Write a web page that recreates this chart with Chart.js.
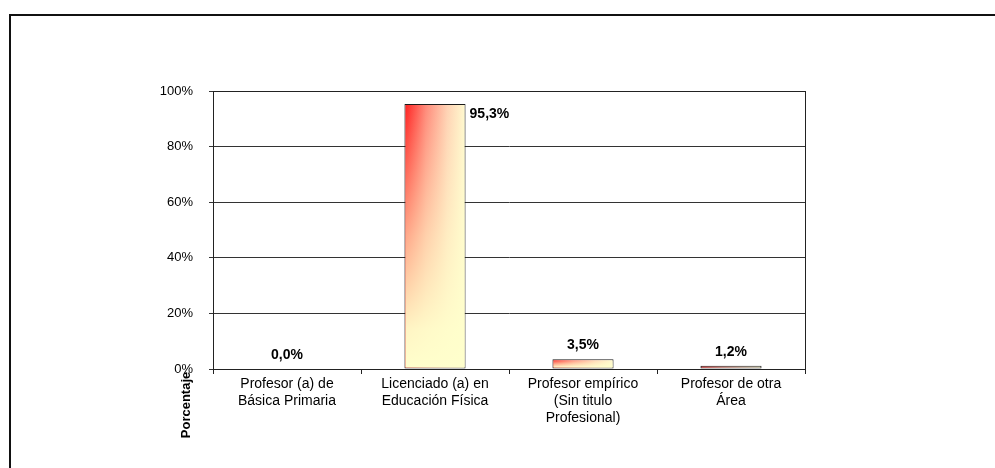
<!DOCTYPE html>
<html>
<head>
<meta charset="utf-8">
<script src="https://cdn.jsdelivr.net/npm/chart.js@4/dist/chart.umd.min.js"></script>
<style>
  html, body { margin: 0; padding: 0; background: #fff; }
  #wrap { width: 995px; height: 468px; }
</style>
</head>
<body>
<div id="wrap"><canvas id="titulo"></canvas></div>
<script>
var categorias = [
    ['Profesor (a) de', 'Básica Primaria'],
    ['Licenciado (a) en', 'Educación Física'],
    ['Profesor empírico', '(Sin titulo', 'Profesional)'],
    ['Profesor de otra', 'Área']
];
var porcentajes = [0.0, 95.3, 3.5, 1.2];
var ticksY = [0, 20, 40, 60, 80, 100];
var tituloY = 'Porcentaje';

var anchoBarra = 0.413;
var fuente = 'Arial, "Liberation Sans", sans-serif';

function fmt(v) {
    return v.toFixed(1).replace('.', ',') + '%';
}

// red on the left fading to pale yellow on the right, per bar
function degradado(c) {
    var chart = c.chart;
    if (!chart.chartArea) return '#FFFFCC';
    var xs = chart.scales.x;
    var cx = xs.getPixelForValue(c.dataIndex);
    var half = xs.width / categorias.length * anchoBarra / 2;
    var g = chart.ctx.createLinearGradient(cx - half, 0, cx + half, 0);
    g.addColorStop(0, '#FF1E1E');
    g.addColorStop(0.35, '#FF8A7A');
    g.addColorStop(0.7, '#FFD2B4');
    g.addColorStop(1, '#FFFBD0');
    return g;
}

var marco = {
    id: 'marco',
    beforeDraw: function(chart) {
        var ctx = chart.ctx;
        ctx.save();
        ctx.strokeStyle = '#111';
        ctx.lineWidth = 2;
        ctx.beginPath();
        ctx.moveTo(10, chart.height);
        ctx.lineTo(10, 15);
        ctx.lineTo(chart.width, 15);
        ctx.stroke();
        ctx.restore();
    },
    afterDatasetsDraw: function(chart) {
        var ctx = chart.ctx;
        var a = chart.chartArea;
        var meta = chart.getDatasetMeta(0);
        ctx.save();
        // vertical wash towards the bottom of each bar
        meta.data.forEach(function(el) {
            var p = el.getProps(['x', 'y', 'base', 'width'], true);
            var h = p.base - p.y;
            if (h < 4) return;
            var g = ctx.createLinearGradient(0, p.y, 0, p.base);
            g.addColorStop(0, 'rgba(255,255,204,0)');
            g.addColorStop(0.5, 'rgba(255,255,204,0.6)');
            g.addColorStop(0.85, 'rgba(255,255,204,0.95)');
            g.addColorStop(1, 'rgba(255,255,204,1)');
            ctx.fillStyle = g;
            ctx.fillRect(p.x - p.width / 2 + 1, p.y + 1, p.width - 2, h - 2);
        });
        // plot frame
        ctx.strokeStyle = '#222';
        ctx.lineWidth = 1;
        ctx.strokeRect(a.left + 0.5, a.top + 0.5, a.right - a.left, a.bottom - a.top);
        // value labels
        ctx.fillStyle = '#000';
        ctx.font = 'bold 14px ' + fuente;
        ctx.textBaseline = 'middle';
        meta.data.forEach(function(el, i) {
            var p = el.getProps(['x', 'y', 'width'], true);
            var txt = fmt(porcentajes[i]);
            if (p.y - 20 < a.top) {
                ctx.textAlign = 'left';
                ctx.fillText(txt, p.x + p.width / 2 + 4, p.y + 10);
            } else {
                ctx.textAlign = 'center';
                ctx.fillText(txt, p.x, p.y - 14);
            }
        });
        // axis title, below the origin
        ctx.font = 'bold 13px ' + fuente;
        ctx.translate(a.left - 27, a.bottom + 36);
        ctx.rotate(-Math.PI / 2);
        ctx.textAlign = 'center';
        ctx.fillText(tituloY, 0, 0);
        ctx.restore();
    }
};

var ctx = document.getElementById('titulo');
var grafico = new Chart(ctx, {
    type: 'bar',
    data: {
        labels: categorias,
        datasets: [
            {
                label: tituloY,
                data: porcentajes,
                backgroundColor: degradado,
                borderColor: '#1a1a1a',
                borderWidth: 1,
                borderSkipped: false,
                categoryPercentage: 1,
                barPercentage: anchoBarra
            }
        ]
    },
    options: {
        responsive: true,
        maintainAspectRatio: false,
        animation: false,
        layout: {
            padding: { left: 153, top: 91, right: 190, bottom: 19 }
        },
        plugins: {
            legend: { display: false },
            tooltip: { enabled: false }
        },
        scales: {
            x: {
                grid: {
                    offset: true,
                    drawOnChartArea: false,
                    color: '#222',
                    tickLength: 5
                },
                border: { color: '#222' },
                ticks: {
                    color: '#000',
                    font: { family: fuente, size: 14, lineHeight: 1.2 },
                    maxRotation: 0,
                    autoSkip: false,
                    padding: 2
                },
                afterFit: function(s) { s.height = 80; }
            },
            y: {
                min: 0,
                max: 100,
                afterBuildTicks: function(s) {
                    s.ticks = ticksY.map(function(v) { return { value: v }; });
                },
                grid: {
                    color: '#333',
                    tickLength: 4
                },
                border: { color: '#222' },
                ticks: {
                    color: '#000',
                    font: { family: fuente, size: 13 },
                    padding: 16,
                    callback: function(v) { return v + '%'; }
                },
                afterFit: function(s) { s.width = 60; }
            }
        }
    },
    plugins: [marco]
});
</script>
</body>
</html>
